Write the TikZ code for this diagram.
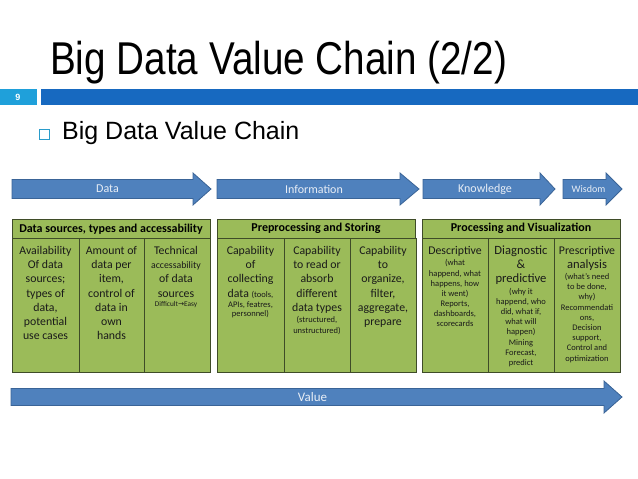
\documentclass[tikz,border=0pt]{standalone}
\usepackage{fontspec}
\usepackage{graphicx}
\setmainfont{Carlito}
\newfontfamily\arialf{Liberation Sans}
\newfontfamily\dejavuf{DejaVu Sans}
\definecolor{arrblue}{HTML}{4F81BD}
\definecolor{arrline}{HTML}{3A6497}
\definecolor{lbl}{HTML}{E8EEF6}
\definecolor{grn}{HTML}{9BBB59}
\definecolor{grnline}{HTML}{3F4C28}
\definecolor{numblue}{HTML}{1FA0DA}
\definecolor{barblue}{HTML}{1769C0}
\definecolor{bullet}{HTML}{2A9CCB}
\definecolor{txtc}{HTML}{1A1A1A}
\newcommand\fb{\fontsize{11.8}{12}\selectfont}
\newcommand\fl{\fontsize{12.6}{13}\selectfont}
\newcommand\fm{\fontsize{9.8}{10}\selectfont}
\newcommand\fs{\fontsize{8.5}{9}\selectfont}
\newcommand\ft{\fontsize{7.3}{8}\selectfont}
\newcommand\coltext[3]{\foreach \yy/\ss/\ltext [count=\i] in {#3} {\node[txt,font=\ss] (#1-\i) at (#2,\yy) {\ltext};}}
\newcommand\chainarrow[6]{%
  \draw[arr] (#1,#4-9.5) -- (#2,#4-9.5) -- (#2,#4-16) -- (#3,#4) -- (#2,#4+16) -- (#2,#4+9.5) -- (#1,#4+9.5) -- cycle;
  \node[arrlbl] (#5) at ({(#1+#3)/2-4},#4) {#6};}
\begin{document}
\begin{tikzpicture}[x=1pt,y=-1pt,
  arr/.style={fill=arrblue,draw=arrline,line width=0.8pt,line join=miter},
  arrlbl/.style={text=lbl,font=\fontsize{12}{12}\selectfont,inner sep=0pt},
  hdr/.style={fill=grn,draw=grnline,line width=0.8pt,inner sep=0pt,minimum height=19.5pt,font=\bfseries\fontsize{12}{12}\selectfont,text=black},
  colbox/.style={fill=grn,draw=grnline,line width=0.8pt,inner sep=0pt,minimum height=133.5pt},
  txt/.style={anchor=base,inner sep=0pt,text=txtc}]
\useasboundingbox (0,0) rectangle (638,479);
\fill[white] (0,0) rectangle (638,479);
% title
\node[anchor=base west,inner sep=0pt] (title) at (50,74) {\arialf\fontsize{46}{46}\selectfont\scalebox{0.84}[1]{Big Data Value Chain (2/2)}};
% number bar
\node[fill=numblue,inner sep=0pt,minimum width=37pt,minimum height=16pt,anchor=north west] (numbox) at (0,89) {};
\node[text=white,font=\arialf\bfseries\fontsize{9}{9}\selectfont,inner sep=0pt] (num) at (18,97) {9};
\node[fill=barblue,inner sep=0pt,minimum width=597pt,minimum height=16pt,anchor=north west] (bar) at (41,89) {};
% bullet
\node[draw=bullet,line width=0.8pt,inner sep=0pt,minimum size=10pt] (bul) at (44,134) {};
\node[anchor=base west,inner sep=0pt] (sub) at (62,139.5) {\arialf\fontsize{25}{25}\selectfont Big Data Value Chain};
% arrows
\chainarrow{12}{193}{211}{189}{adata}{Data}
\chainarrow{217}{400}{419}{189}{ainfo}{Information}
\chainarrow{423}{540}{555}{189}{aknow}{Knowledge}
\chainarrow{563}{606}{622}{189}{awis}{\fontsize{10}{10}\selectfont Wisdom}
% headers
\node[hdr,minimum width=198pt] (h1) at (111,228.75) {Data sources, types and accessability};
\node[hdr,minimum width=198pt] (h2) at (316,228.75) {Preprocessing and Storing};
\node[hdr,minimum width=198pt] (h3) at (521,228.75) {Processing and Visualization};
% column boxes
\node[colbox,minimum width=67pt] (g1a) at (45.5,305.25) {};
\node[colbox,minimum width=65pt] (g1b) at (111.5,305.25) {};
\node[colbox,minimum width=66pt] (g1c) at (177,305.25) {};
\node[colbox,minimum width=67pt] (g2a) at (250.5,305.25) {};
\node[colbox,minimum width=66pt] (g2b) at (317,305.25) {};
\node[colbox,minimum width=66pt] (g2c) at (383,305.25) {};
\node[colbox,minimum width=66pt] (g3a) at (455,305.25) {};
\node[colbox,minimum width=66pt] (g3b) at (521,305.25) {};
\node[colbox,minimum width=66pt] (g3c) at (587,305.25) {};
% column texts
\coltext{t1a}{45.5}{254/\fb/Availability,268/\fb/Of data,282/\fb/sources;,297/\fb/types of,311/\fb/{data,},325/\fb/potential,339/\fb/use cases}
\coltext{t1b}{111.5}{254/\fb/Amount of,268/\fb/data per,282/\fb/{item,},297/\fb/control of,311/\fb/data in,325/\fb/own,339.5/\fb/hands}
\coltext{t1c}{176}{254/\fb/Technical,268/\fm/accessability,282/\fb/of data,297/\fb/sources,306.5/\ft/{Difficult{\dejavuf→}Easy}}
\coltext{t2a}{250.5}{254/\fb/Capability,268/\fb/of,282/\fb/collecting,297/\fb/{data \fs(tools,},307/\fs/{APIs, featres,},316/\fs/personnel)}
\coltext{t2b}{317}{254/\fb/Capability,268/\fb/to read or,282/\fb/absorb,297/\fb/different,311/\fb/data types,322/\fs/{(structured,},333/\fs/unstructured)}
\coltext{t2c}{383}{254/\fb/Capability,268/\fb/to,282/\fb/{organize,},297/\fb/{filter,},311/\fb/{aggregate,},325/\fb/prepare}
\coltext{t3a}{455}{254/\fb/Descriptive,265/\fs/(what,276/\fs/{happend, what},286/\fs/{happens, how},296/\fs/it went),306/\fs/{Reports,},316/\fs/{dashboards,},326/\fs/scorecards}
\coltext{t3b}{521}{254/\fl/Diagnostic,268/\fl/\&,282/\fl/predictive,294/\fs/(why it,304/\fs/{happend, who},314/\fs/{did, what if,},324/\fs/what will,334/\fs/happen),345/\fs/Mining,355/\fs/{Forecast,},365/\fs/predict}
\coltext{t3c}{587}{254/\fb/Prescriptive,268/\fl/analysis,279/\fs/(what's need,289/\fs/{to be done,},299/\fs/why),310/\fs/Recommendati,320/\fs/{ons,},330/\fs/Decision,340/\fs/{support,},350/\fs/Control and,361/\fs/optimization}
% value arrow
\draw[arr] (11,388.5) -- (604,388.5) -- (604,381) -- (622,397) -- (604,413) -- (604,405.5) -- (11,405.5) -- cycle;
\node[arrlbl,font=\fontsize{13}{13}\selectfont] (aval) at (312.5,397) {Value};
\end{tikzpicture}
\end{document}
